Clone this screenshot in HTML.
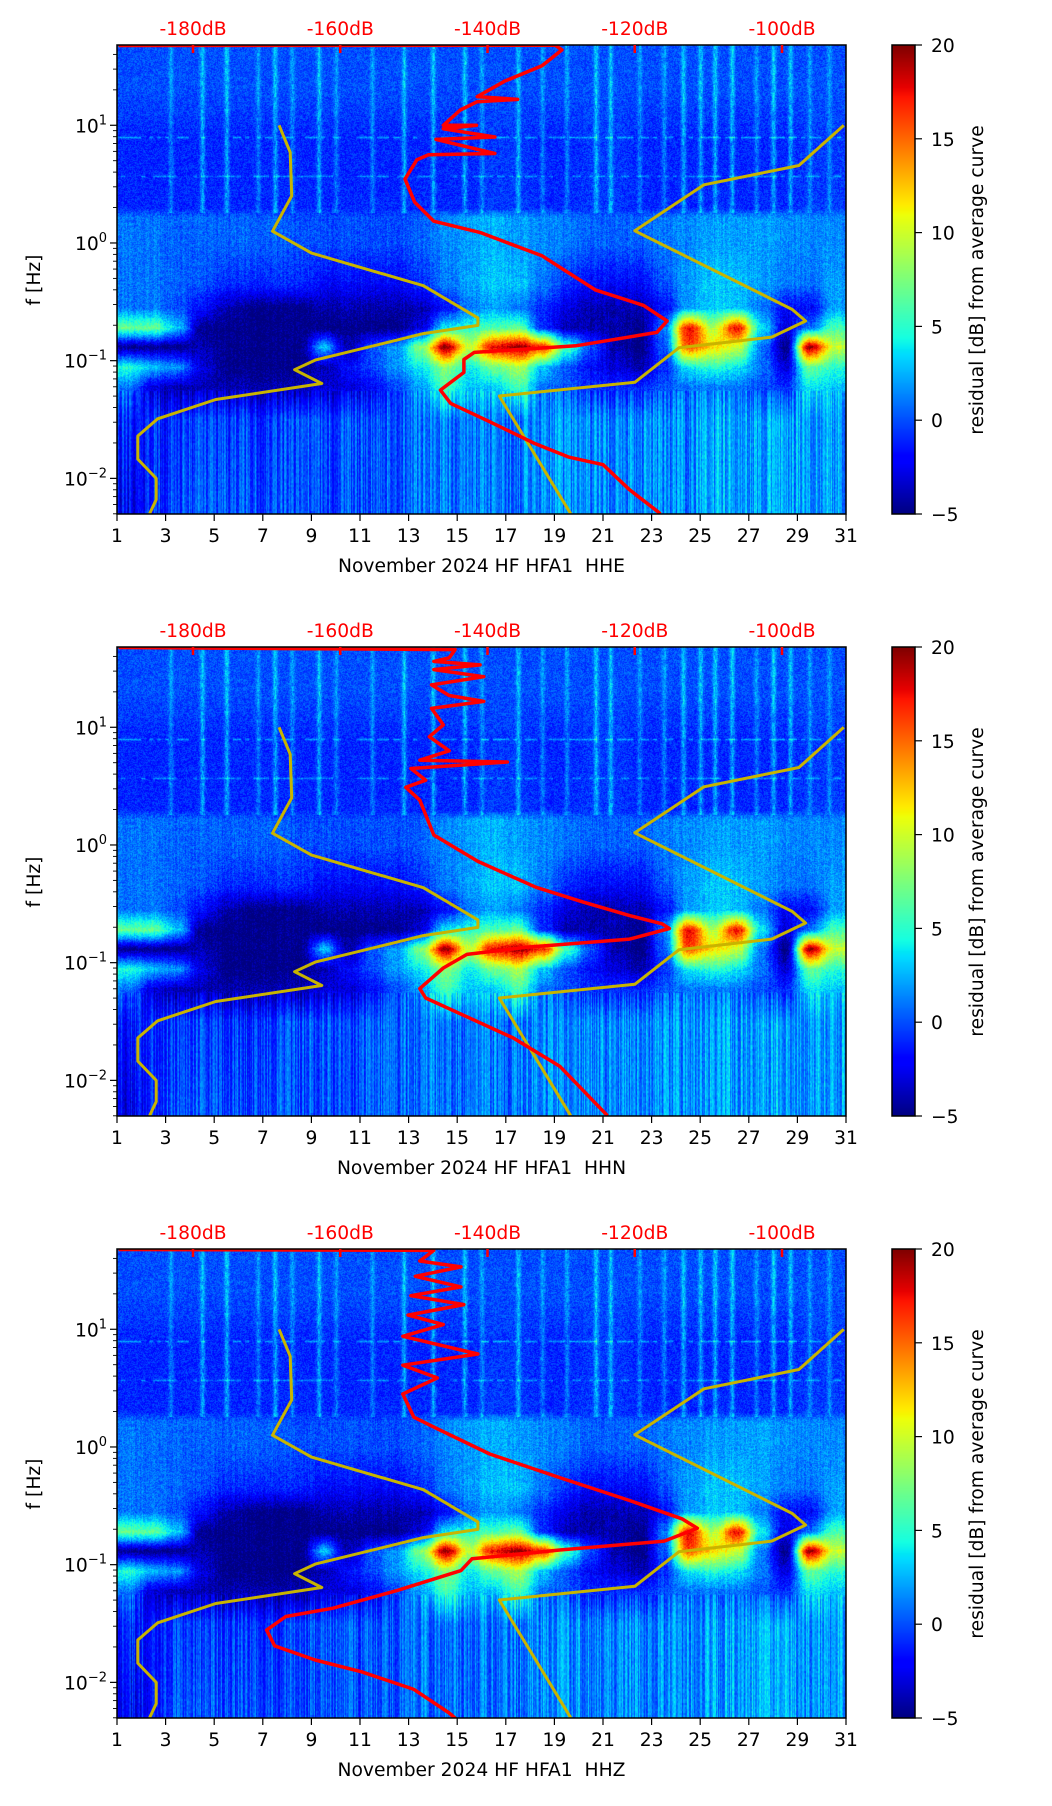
<!DOCTYPE html>
<html><head><meta charset="utf-8">
<style>
html,body{margin:0;padding:0;background:#fff;}
#wrap{position:relative;width:1052px;height:1806px;overflow:hidden;font-family:"DejaVu Sans","Liberation Sans",sans-serif;}
canvas{position:absolute;}
svg{position:absolute;left:0;top:0;}
</style></head>
<body>
<div id="wrap">
<canvas id="c0" width="729" height="469" style="left:117px;top:45px"></canvas>
<canvas id="c1" width="729" height="469" style="left:117px;top:647px"></canvas>
<canvas id="c2" width="729" height="469" style="left:117px;top:1249px"></canvas>
<canvas id="cb0" width="23" height="469" style="left:892px;top:45px"></canvas>
<canvas id="cb1" width="23" height="469" style="left:892px;top:647px"></canvas>
<canvas id="cb2" width="23" height="469" style="left:892px;top:1249px"></canvas>
<svg id="svg" width="1052" height="1806" xmlns="http://www.w3.org/2000/svg"></svg>
</div>
<script>
// ---- data ----
const channels = ["HHE","HHN","HHZ"];
const dayTicks = [1,3,5,7,9,11,13,15,17,19,21,23,25,27,29,31];
const dbTicks = [-180,-160,-140,-120,-100];
const cbTicks = [-5,0,5,10,15,20];
const decades = [1,0,-1,-2];
const rowLog = [-2.2,-1.5,-1.22,-1.05,-0.88,-0.72,-0.55,-0.35,0.0,0.22,0.3,0.9,1.3,1.6];
const rLow = [-2,-1,0,0,0,0,0,0,0,0,0.5,0.5,1,1,1,1,1,1.5,1.5,1.5,1.5,1.5,1.5,1.5,2,2,2,2,2,2];
const rLow2 = [-1,-1,-0.5,-0.5,-0.5,-0.5,-0.5,0,0,0,0.5,0.5,1,1,1,1,1,1.5,1.5,1.5,1.5,1.5,1.5,1.5,2,2,2,2,2,2];
const r1 = [1,-3,-4,-4,-4,-4,-4,-4,-3,-3,-2,0,2,6,3,3,6,1,0,-1,-1,-1,0,1,1,1,0,-1,4,3];
const r2 = [5,3,2,-3,-5,-5,-5,-5,-4,-2,0,2,4,8,4,7,9,3,0,-2,-3,-4,-1,4,5,4,1,-3,7,5];
const r3 = [-5,-5,-5,-4,-5,-5,-5,-5,3,-4,0,2,8,20,10,18,20,17,6,0,-4,-5,0,16,12,10,1,-5,20,10];
const r4 = [7,7,3,-5,-5,-5,-5,-5,-5,-5,-5,-5,-3,4,5,6,7,-1,-4,-4,-4,-5,1,18,9,18,4,-3,1,6];
const r5 = [1,1,0,-2,-4,-5,-5,-5,-4,-4,-4,-4,-4,-2,1,2,1,-1,-3,-4,-4,-4,-2,2,3,3,1,-2,-2,2];
const r5b = [1,1,0.5,0,-1,-1,-1,-1,-2,-2,-2,-2,-1,1,2,3,3,1,-1,-2,-2,-2,0,2,3,3,2,1,1,2];
const r6 = [1,1,0.5,0.5,0.5,0.5,0.5,0,0,0,0,0,0.5,1.5,2,2.5,2,1.5,1,0.5,0.5,0.5,1,1.5,2,2,2,1.5,1.5,1.5];
const r7 = [-1,-1,-1,-1,-1,-1,-1,-1,-1,-1,-1,-1,-1,-1,-1,-0.5,-0.5,-1,-1,-0.5,-0.5,-1,-1,-1,-1,-1,-1,-1,-0.5,-0.5];
const r8 = [0,0,0,0,0,0,0,0,0,0,0,0,0,0,0,0,0,0,0,0,0,0,0,0,0,0,0,0,0,0];
const grid = [rLow,rLow2,r1,r2,r3,r4,r5,r5b,r6,r6,r7,r7,r8,r8];
const streakDays = [3.2,4.5,5.5,6.8,7.5,8.2,9.3,10,11.5,12.8,14,15.3,16,17.5,18.5,19.5,20.7,21.3,22.5,23.5,24.3,25,25.6,26.3,27.3,28,28.7,29.5,30.3];
const streakAmp = [2,3,3,2,3,2,3,2,2,3,3,3,2,3,2,2,3,3,2,2,3,3,3,3,2,3,3,2,2];
const humLog = [0.57,0.9];
const humAmp = [2.5,3];
// noise models: [dB, log10 f]
const nlnmDb = [-168.3,-166.8,-166.6,-169.2,-163.9,-148.7,-141.3,-141.3,-148.7,-163.4,-166.2,-162.5,-176.9,-184.8,-187.5,-187.5,-185.0,-185.0,-185.9];
const nlnmLog = [1.0,0.77,0.40,0.10,-0.086,-0.363,-0.637,-0.70,-0.77,-0.995,-1.077,-1.194,-1.33,-1.494,-1.64,-1.836,-2.0,-2.18,-2.30];
const nhnmDb = [-91.6,-97.7,-110.6,-120.0,-98.6,-96.8,-101.4,-114.0,-120.0,-138.4,-128.7];
const nhnmLog = [1.0,0.658,0.494,0.103,-0.565,-0.663,-0.80,-0.891,-1.184,-1.30,-2.30];
// average PSD curves per channel
const psdDb0 = [-190.1,-130.8,-129.9,-132.6,-137.7,-141.4,-135.9,-141.4,-143.7,-146,-141.5,-146,-139,-147,-139,-148,-149.6,-151.2,-149.9,-147.3,-140.9,-132.6,-125.3,-118.8,-115.6,-117,-128,-141.8,-143.2,-143.2,-146.4,-145,-140,-133.5,-128.9,-124.3,-120.7,-116.5];
const psdLog0 = [1.678,1.68,1.64,1.505,1.374,1.244,1.22,1.2,1.13,1.0,1.0,0.97,0.9,0.88,0.76,0.75,0.706,0.543,0.347,0.185,0.087,-0.109,-0.4,-0.53,-0.663,-0.76,-0.874,-0.93,-0.99,-1.1,-1.25,-1.363,-1.51,-1.706,-1.82,-1.884,-2.097,-2.3];
const psdDb1 = [-190.1,-144.4,-145.2,-147.3,-141.0,-147.3,-140.5,-147.6,-145.2,-140.5,-147.6,-146.0,-147.9,-145.2,-149.2,-137.3,-150.4,-148.4,-151.1,-149.2,-147.3,-141.3,-133.4,-127.0,-120.7,-116.3,-115.3,-120.7,-134.9,-142.8,-146.0,-149.2,-148.4,-142.8,-136.5,-130.2,-123.7];
const psdLog1 = [1.678,1.66,1.59,1.56,1.53,1.49,1.43,1.36,1.27,1.22,1.16,1.02,0.92,0.80,0.72,0.705,0.65,0.55,0.49,0.38,0.085,-0.14,-0.36,-0.485,-0.60,-0.67,-0.71,-0.80,-0.87,-0.93,-1.045,-1.22,-1.30,-1.46,-1.64,-1.88,-2.30];
const psdDb2 = [-190.1,-147.3,-149.2,-143.6,-149.8,-143.6,-150.4,-143.2,-150.8,-146.0,-151.5,-141.3,-151.5,-146.8,-151.5,-150.0,-146.8,-139.7,-130.2,-120.7,-113.6,-111.5,-116.0,-130.2,-142.1,-143.6,-152.3,-161.0,-167.4,-170.0,-168.9,-163.4,-157.1,-150.0,-145.2,-144.1];
const psdLog2 = [1.678,1.67,1.58,1.53,1.45,1.36,1.285,1.21,1.12,1.04,0.94,0.79,0.695,0.587,0.45,0.253,0.154,-0.06,-0.26,-0.455,-0.61,-0.69,-0.80,-0.875,-0.95,-1.05,-1.22,-1.37,-1.44,-1.556,-1.69,-1.81,-1.91,-2.06,-2.26,-2.32];
const psdDb = [psdDb0,psdDb1,psdDb2];
const psdLog = [psdLog0,psdLog1,psdLog2];

// ---- geometry ----
const L=117, W=729, H=469, tops=[45,647,1249];
const CBX=892, CBW=23;
const LOGTOP=1.682, DEC=117.7;
const xDay = d => L + (d-1)/30*W;
const xDb = db => 193 + (db+180)*7.3625;
const yLog = (lg,p) => tops[p] + (LOGTOP-lg)*DEC;
const yCb = (v,p) => tops[p] + H - (v+5)/25*H;

function jet(t){
  t=Math.max(0,Math.min(1,t));
  const f=(x,pts)=>{for(let i=1;i<pts.length;i++){if(x<=pts[i][0]){const a=pts[i-1],b=pts[i];return a[1]+(b[1]-a[1])*(x-a[0])/(b[0]-a[0]);}}return pts[pts.length-1][1];};
  const r=f(t,[[0,0],[0.35,0],[0.66,1],[0.89,1],[1,0.5]]);
  const g=f(t,[[0,0],[0.125,0],[0.375,1],[0.64,1],[0.91,0],[1,0]]);
  const b=f(t,[[0,0.5],[0.11,1],[0.34,1],[0.65,0],[1,0]]);
  return [r*255,g*255,b*255];
}
// deterministic texture (rendering grain only)
function hash(a,b){let h=(a*374761393+b*668265263)|0;h=(h^(h>>>13))*1274126177|0;return ((h^(h>>>16))>>>0)/4294967295;}
function gridVal(day,lg){
  let cx=day-1.5; let c0=Math.floor(cx); let fx=cx-c0;
  let c1=c0+1; c0=Math.max(0,Math.min(29,c0)); c1=Math.max(0,Math.min(29,c1));
  fx=fx*fx*(3-2*fx);
  let ri=0; while(ri<rowLog.length-2 && lg>rowLog[ri+1]) ri++;
  let fy=(lg-rowLog[ri])/(rowLog[ri+1]-rowLog[ri]); fy=Math.max(0,Math.min(1,fy));
  const a=grid[ri], b=grid[ri+1];
  const va=a[c0]*(1-fx)+a[c1]*fx, vb=b[c0]*(1-fx)+b[c1]*fx;
  return va*(1-fy)+vb*fy;
}
function drawPanel(p){
  const cv=document.getElementById('c'+p), ctx=cv.getContext('2d');
  const img=ctx.createImageData(W,H);
  const colN=[]; for(let x=0;x<W;x++) colN.push(hash(x+p*1000,7)-0.5);
  for(let y=0;y<H;y++){
    const lg=LOGTOP - y/DEC;
    for(let x=0;x<W;x++){
      const day=1+x/W*30;
      let v=gridVal(day,lg);
      if(lg>0.26){
        for(let k=0;k<streakDays.length;k++){
          const dd=(day-streakDays[k])/0.1;
          if(Math.abs(dd)<3) v+=streakAmp[k]*Math.exp(-dd*dd)*(0.6+0.8*hash(x,y>>2));
        }
        for(let k=0;k<humLog.length;k++){
          const dl=(lg-humLog[k])/0.008;
          if(Math.abs(dl)<3) v+=humAmp[k]*Math.exp(-dl*dl)*(hash(x>>2,k)>0.4?1:0);
        }
        v+= (hash(x,y)-0.5)*2.5;
      } else if(lg>-1.25){
        v+= (hash(x,y)-0.5)*2.5 + colN[x]*1.0;
      } else {
        v+= colN[x]*4 + (hash(x,y>>1)-0.5)*1.5;
      }
      const c=jet((v+5)/25);
      const i=(y*W+x)*4;
      img.data[i]=c[0];img.data[i+1]=c[1];img.data[i+2]=c[2];img.data[i+3]=255;
    }
  }
  ctx.putImageData(img,0,0);
  const cb=document.getElementById('cb'+p).getContext('2d');
  for(let y=0;y<H;y++){const c=jet(1-y/H);cb.fillStyle='rgb('+c.map(Math.round).join(',')+')';cb.fillRect(0,y,CBW,1);}
}

const NS='http://www.w3.org/2000/svg';
const svg=document.getElementById('svg');
function el(tag,attrs,parent){const e=document.createElementNS(NS,tag);for(const k in attrs)e.setAttribute(k,attrs[k]);(parent||svg).appendChild(e);return e;}

for(let p=0;p<3;p++){
  drawPanel(p);
  const T=tops[p], B=T+H;
  const g=el('g',{});
  
  
  el('clipPath',{id:'clip'+p},g);
  el('rect',{x:L,y:T,width:W,height:H},document.getElementById('clip'+p));
  const lines=el('g',{'clip-path':'url(#clip'+p+')'},g);
  const mk=(dbs,lgs)=>dbs.map((d,i)=>xDb(d).toFixed(1)+','+yLog(lgs[i],p).toFixed(1)).join(' ');
  const n1=el('polyline',{points:mk(nlnmDb,nlnmLog),fill:'none',stroke:'#c8b400',"stroke-width":3,"stroke-linejoin":'round'},lines);
  
  
  const n2=el('polyline',{points:mk(nhnmDb,nhnmLog),fill:'none',stroke:'#c8b400',"stroke-width":3,"stroke-linejoin":'round'},lines);
  
  
  const pc=el('polyline',{points:mk(psdDb[p],psdLog[p]),fill:'none',stroke:'#ff0000',"stroke-width":3.5,"stroke-linejoin":'round'},lines);
  
  
  el('rect',{x:L,y:T,width:W,height:H,fill:'none',stroke:'#000',"stroke-width":1.5},g);
  dayTicks.forEach(d=>{
    const x=xDay(d);
    el('line',{x1:x,y1:B,x2:x,y2:B+7,stroke:'#000',"stroke-width":1.2},g);
    const t=el('text',{x:x,y:B+28,"font-size":18.7,"text-anchor":'middle',fill:'#000'},g);
    t.textContent=d;
    
    
  });
  dbTicks.forEach(db=>{
    const x=xDb(db);
    el('line',{x1:x,y1:T,x2:x,y2:T+8,stroke:'#ff0000',"stroke-width":2.5},g);
    const t=el('text',{x:x,y:T-10,"font-size":18.7,"text-anchor":'middle',fill:'#ff0000'},g);
    t.textContent=db+'dB';
    
    
  });
  for(let dcd=-3;dcd<=1;dcd++){
    for(let m=1;m<10;m++){
      const lg=dcd+Math.log10(m); const y=yLog(lg,p);
      if(y<T-0.5||y>B+0.5) continue;
      const len=m===1?7:4;
      el('line',{x1:L-len,y1:y,x2:L,y2:y,stroke:'#000',"stroke-width":m===1?1.2:0.9},g);
    }
  }
  decades.forEach(dc=>{
    const y=yLog(dc,p);
    const t=el('text',{x:L-10,y:y+7,"font-size":18.7,"text-anchor":'end',fill:'#000'},g);
    
    
    const a=el('tspan',{},t); a.textContent='10';
    const s=el('tspan',{dy:-8,"font-size":13},t); s.textContent=(dc<0?'\u2212'+(-dc):''+dc);
  });
  const yl=el('text',{x:0,y:0,"font-size":18.7,"text-anchor":'middle',transform:'translate(40,'+(T+235)+') rotate(-90)'},g);
  yl.textContent='f [Hz]';
  
  
  const xl=el('text',{x:L+W/2,y:B+58,"font-size":18.7,"text-anchor":'middle',style:'white-space:pre'},g);
  xl.textContent='November 2024 HF HFA1\u00a0\u00a0'+channels[p];
  
  
  el('rect',{x:CBX,y:T,width:CBW,height:H,fill:'none',stroke:'#000',"stroke-width":1.5},g);
  cbTicks.forEach(v=>{
    const y=yCb(v,p);
    el('line',{x1:CBX+CBW,y1:y,x2:CBX+CBW+7,y2:y,stroke:'#000',"stroke-width":1.2},g);
    const t=el('text',{x:CBX+CBW+16,y:y+7,"font-size":18.7,fill:'#000'},g);
    t.textContent=(v<0?'\u2212'+(-v):''+v);
    
    
  });
  const cl=el('text',{x:0,y:0,"font-size":18.7,"text-anchor":'middle',transform:'translate(983,'+(T+235)+') rotate(-90)'},g);
  cl.textContent='residual [dB] from average curve';
  
  
}
</script>
</body></html>
